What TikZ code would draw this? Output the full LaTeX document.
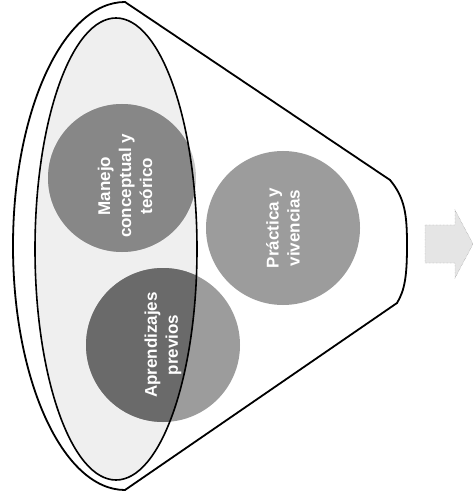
\documentclass[tikz,border=0pt]{standalone}
\usepackage{fontspec}
\setsansfont{Liberation Sans}
\usepackage{tikz}
\definecolor{RimFill}{HTML}{EFEFEF}
\definecolor{BallDark}{HTML}{878787}
\definecolor{BallMid}{HTML}{9C9C9C}
\definecolor{BallPale}{HTML}{C8C8C8}
\definecolor{BallDeep}{HTML}{6A6A6A}

\begin{document}
\begin{tikzpicture}[x=1pt,y=-1pt,
    every node/.style={font=\sffamily\bfseries\fontsize{17}{21}\selectfont},
    ball/.style={circle, inner sep=0pt, minimum size=#1},
    balltext/.style={text=white, align=center, rotate=90}]
  \useasboundingbox (0,0) rectangle (474,502);
  % funnel body
  \draw[line width=1.8pt, fill=white] (125,2) arc[start angle=-90, end angle=-270, x radius=112, y radius=244]
    -- (397,303) .. controls (405,290) and (407,275) .. (407,245)
    .. controls (407,215) and (405,198) .. (390,180) -- cycle;
  \fill[RimFill] (116,249) ellipse[x radius=81, y radius=231];
  % balls
  \node[ball=148, fill=BallPale] (manejo) at (122,178) {};
  \node[ball=154, fill=BallMid] (practica) at (283,228) {};
  \node[ball=154, fill=BallMid] (aprend) at (163,345) {};
  \begin{scope}
    \clip (116,249) ellipse[x radius=81, y radius=231];
    \fill[BallDark] (manejo.center) circle (74);
    \fill[BallDeep] (aprend.center) circle (77);
  \end{scope}
  \draw[line width=1.6pt] (116,249) ellipse[x radius=81, y radius=231];
  \node[balltext] (manejot) at ([xshift=3pt,yshift=-8pt]manejo.center) {Manejo\\conceptual y\\teórico};
  \node[balltext] (practicat) at (practica) {Práctica y\\vivencias};
  \node[balltext] (aprendt) at (aprend) {Aprendizajes\\previos};
  % exit arrow
  \draw[gray, densely dotted, fill=gray!20] (425,225) -- (455,225) -- (455,210) -- (473,244)
    -- (455,278) -- (455,263) -- (425,263) -- cycle;
\end{tikzpicture}
\end{document}
